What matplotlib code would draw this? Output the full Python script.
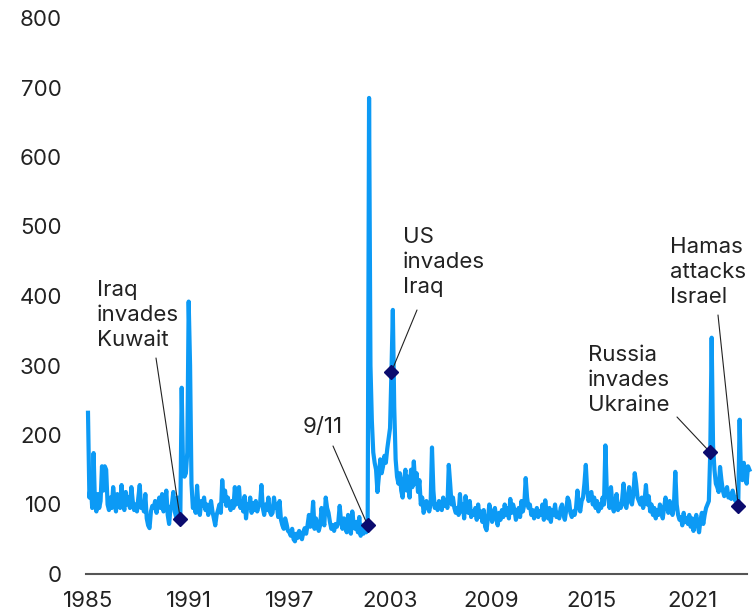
import numpy as np
import matplotlib.pyplot as plt

plt.rcParams['font.family'] = ['Inter', 'DejaVu Sans']

# monthly index values, Jan 1985 onwards
vals_1985_89 = [
    232, 110, 130, 95, 174, 100, 90, 115, 95, 105, 155, 120,   # 1985
    155, 150, 100, 92, 110, 95, 125, 105, 90, 115, 100, 95,    # 1986
    128, 100, 92, 118, 100, 110, 95, 125, 105, 92, 100, 90,    # 1987
    110, 128, 95, 100, 90, 115, 80, 70, 66, 90, 98, 95,        # 1988
    105, 88, 100, 110, 95, 115, 90, 100, 120, 85, 72, 95,      # 1989
]
vals_1990_94 = [
    100, 118, 90, 82, 110, 90, 79, 268, 150, 140, 145, 175,    # 1990
    392, 300, 130, 95, 100, 88, 127, 95, 85, 105, 98, 110,     # 1991
    92, 100, 85, 95, 105, 90, 80, 70, 85, 92, 100, 88,         # 1992
    135, 105, 120, 98, 110, 100, 92, 105, 95, 125, 100, 118,   # 1993
    125, 95, 105, 90, 112, 80, 100, 95, 110, 88, 102, 92,      # 1994
]
vals_1995_99 = [
    105, 90, 98, 100, 128, 95, 85, 100, 92, 110, 90, 85,       # 1995
    88, 110, 95, 100, 82, 105, 78, 70, 65, 80, 72, 62,         # 1996
    60, 55, 65, 50, 47, 58, 52, 62, 56, 50, 60, 66,            # 1997
    58, 70, 85, 68, 75, 104, 65, 80, 72, 62, 70, 95,           # 1998
    80, 70, 110, 95, 88, 75, 65, 70, 62, 72, 68, 75,           # 1999
]
vals_2000_04 = [
    98, 75, 65, 80, 70, 60, 85, 68, 58, 90, 72, 65,            # 2000
    75, 60, 82, 55, 70, 58, 65, 60, 70, 685, 300, 220,         # 2001
    175, 160, 150, 118, 140, 165, 145, 155, 170, 160, 180, 195,  # 2002
    210, 291, 380, 240, 165, 140, 130, 145, 120, 110, 135, 150,  # 2003
    120, 140, 110, 150, 125, 162, 130, 145, 118, 135, 100, 110,  # 2004
]
vals_2005_09 = [
    88, 95, 105, 100, 90, 100, 182, 120, 95, 100, 92, 105,     # 2005
    100, 92, 110, 98, 105, 95, 157, 130, 100, 110, 95, 88,     # 2006
    95, 85, 115, 90, 100, 80, 112, 95, 88, 105, 82, 90,        # 2007
    85, 95, 78, 100, 82, 90, 75, 92, 68, 63, 80, 100,          # 2008
    90, 75, 85, 95, 80, 70, 88, 78, 92, 82, 100, 85,           # 2009
]
vals_2010_14 = [
    95, 80, 108, 88, 100, 92, 78, 85, 95, 82, 105, 90,         # 2010
    100, 138, 110, 95, 100, 85, 92, 80, 88, 95, 82, 90,        # 2011
    85, 100, 78, 106, 88, 80, 95, 75, 92, 85, 100, 82,         # 2012
    88, 80, 95, 100, 85, 78, 92, 110, 105, 88, 82, 90,         # 2013
    85, 95, 120, 100, 90, 105, 110, 130, 157, 120, 105, 115,   # 2014
]
vals_2015_19 = [
    118, 100, 110, 95, 105, 90, 100, 95, 110, 100, 185, 120,   # 2015
    110, 95, 125, 100, 90, 105, 115, 92, 100, 95, 108, 130,    # 2016
    100, 95, 110, 125, 105, 100, 115, 145, 130, 110, 105, 100,  # 2017
    110, 95, 105, 128, 100, 112, 90, 100, 85, 95, 80, 92,      # 2018
    85, 100, 92, 80, 95, 110, 100, 88, 105, 92, 85, 98,        # 2019
]
vals_2020_24 = [
    147, 100, 85, 78, 82, 70, 88, 75, 80, 72, 85, 68,          # 2020
    80, 62, 75, 85, 70, 60, 78, 88, 72, 85, 95, 100,           # 2021
    105, 175, 340, 185, 150, 130, 125, 118, 154, 135, 120, 112,  # 2022
    118, 125, 110, 115, 108, 120, 112, 105, 110, 98, 222, 140,   # 2023
    135, 160, 145, 130, 155, 150,                              # 2024
]

event_labels = ["Iraq\ninvades\nKuwait", "9/11", "US\ninvades\nIraq",
                "Russia\ninvades\nUkraine", "Hamas\nattacks\nIsrael"]
event_months = [(1990, 7), (2001, 9), (2003, 2), (2022, 2), (2023, 10)]
# label anchor (left, middle) and leader-line start, in figure pixels
label_pos = [(97, 298), (303, 186), (403, 351), (588, 233), (670, 341)]
leader_start = [(156, 255), (333, 167), (417, 303), (677, 196), (718, 298)]

x_ticks = [1985, 1991, 1997, 2003, 2009, 2015, 2021]
y_ticks = [0, 100, 200, 300, 400, 500, 600, 700, 800]

values = np.array(vals_1985_89 + vals_1990_94 + vals_1995_99 + vals_2000_04
                  + vals_2005_09 + vals_2010_14 + vals_2015_19 + vals_2020_24, dtype=float)
dates = 1985 + np.arange(len(values)) / 12.0

W, H = 753, 613
fig = plt.figure(figsize=(W / 100, H / 100), dpi=100)
L, R, B, T = 80, 753, 39, 595
ax = fig.add_axes([L / W, B / H, (R - L) / W, (T - B) / H])

px_per_year = 16.78
ax.set_xlim(1985 - (88 - L) / px_per_year, 1985 + (R - 88) / px_per_year)
ax.set_ylim(0, 800)

ax.plot(dates, values, color='#0c9af5', lw=3.0, solid_joinstyle='round', zorder=2)

for lab, (yr, mo), (tx, ty), (lx, ly) in zip(event_labels, event_months, label_pos, leader_start):
    i = (yr - 1985) * 12 + (mo - 1)
    ax.annotate('', xy=(dates[i], values[i]), xytext=(lx, ly), textcoords='figure pixels',
                arrowprops=dict(arrowstyle='-', color='#222222', lw=0.8,
                                shrinkA=0, shrinkB=0), zorder=3)
    ax.plot(dates[i], values[i], marker='D', ms=7, color='#0b0b6e', zorder=4)
    fig.text(tx / W, ty / H, lab, ha='left', va='center', fontsize=16,
             color='#222222', linespacing=1.3)

ax.set_xticks(x_ticks)
ax.set_xticklabels([str(x) for x in x_ticks])
ax.set_yticks(y_ticks)
ax.tick_params(axis='both', length=0, labelsize=16, colors='#222222')
ax.tick_params(axis='y', pad=13)
ax.tick_params(axis='x', pad=12)

for s in ['top', 'right', 'left']:
    ax.spines[s].set_visible(False)
ax.spines['bottom'].set_color('#555555')
ax.spines['bottom'].set_linewidth(1.5)
ax.spines['bottom'].set_bounds(1984.88, 2024.27)

fig.savefig('out.png', dpi=100)
